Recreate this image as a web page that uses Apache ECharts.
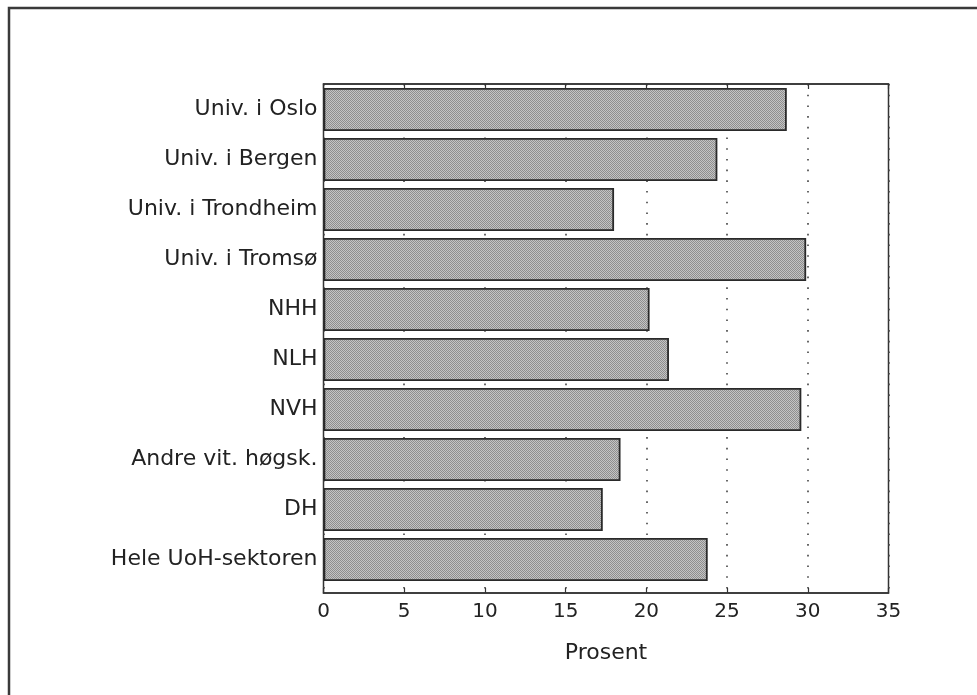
<!DOCTYPE html>
<html>
<head>
<meta charset="utf-8">
<script src="https://cdn.jsdelivr.net/npm/echarts@6/dist/echarts.min.js"></script>
<style>
html,body{margin:0;padding:0;background:#fff;}
#chart{width:977px;height:695px;}
</style>
</head>
<body>
<div id="chart"></div>
<script>
const categories = ["Univ. i Oslo","Univ. i Bergen","Univ. i Trondheim","Univ. i Tromsø","NHH","NLH","NVH","Andre vit. høgsk.","DH","Hele UoH-sektoren"];
const values = [28.7, 24.4, 18.0, 29.9, 20.2, 21.4, 29.6, 18.4, 17.3, 23.8];
const xTicks = {min: 0, max: 35, interval: 5};
const xName = "Prosent";

// stipple pattern for the bar fill
const pat = document.createElement('canvas');
pat.width = 2; pat.height = 2;
const pctx = pat.getContext('2d');
pctx.fillStyle = '#c4c4c4'; pctx.fillRect(0,0,2,2);
pctx.fillStyle = '#8e8e8e'; pctx.fillRect(0,0,1,1); pctx.fillRect(1,1,1,1);

const FONT = 'DejaVu Sans';
const chart = echarts.init(document.getElementById('chart'), null, {renderer:'canvas'});
chart.setOption({
  animation: false,
  backgroundColor: '#fff',
  textStyle: {fontFamily: FONT},
  graphic: [{
    type: 'rect', shape: {x: 9, y: 8, width: 1100, height: 900},
    style: {fill: 'none', stroke: '#3a3a3a', lineWidth: 2.5}, silent: true
  }],
  grid: [
    {left: 323.5, right: 88.5, top: 84, bottom: 102, show: true, borderColor: '#333', borderWidth: 1.5, backgroundColor: 'transparent'},
    {left: 323.5, right: 88.5, top: 84.5, height: 500}
  ],
  xAxis: [
    {gridIndex: 0, type: 'value', position: 'bottom', min: xTicks.min, max: xTicks.max, interval: xTicks.interval,
     axisLine: {show: true, lineStyle: {color: '#333', width: 1.5}},
     axisTick: {show: true, inside: true, length: 5, lineStyle: {color: '#333', width: 1.2}},
     axisLabel: {color: '#222', fontSize: 20, fontFamily: FONT, margin: 9},
     splitLine: {show: true, lineStyle: {color: '#444', width: 1.6, type: [1.6, 9.1]}},
     name: xName, nameLocation: 'middle', nameGap: 49, nameMoveOverlap: false,
     nameTextStyle: {color: '#222', fontSize: 22, fontFamily: FONT}},
    {gridIndex: 0, type: 'value', position: 'top', min: xTicks.min, max: xTicks.max, interval: xTicks.interval,
     axisLine: {show: true, lineStyle: {color: '#333', width: 1.5}},
     axisTick: {show: true, inside: true, length: 5, lineStyle: {color: '#333', width: 1.2}},
     axisLabel: {show: false}, splitLine: {show: false}},
    {gridIndex: 1, type: 'value', min: xTicks.min, max: xTicks.max, interval: xTicks.interval, show: false}
  ],
  yAxis: [
    {gridIndex: 0, type: 'value', show: false, min: 0, max: 1},
    {gridIndex: 1, type: 'category', data: categories, inverse: true,
     axisLine: {show: false}, axisTick: {show: false},
     axisLabel: {color: '#222', fontSize: 22, fontFamily: FONT, margin: 6},
     splitLine: {show: false}}
  ],
  series: [{
    type: 'bar', xAxisIndex: 2, yAxisIndex: 1, data: values,
    barCategoryGap: '14%',
    itemStyle: {color: {image: pat, repeat: 'repeat'}, borderColor: '#2a2a2a', borderWidth: 1.8},
    z: 5
  }]
});
</script>
</body>
</html>
